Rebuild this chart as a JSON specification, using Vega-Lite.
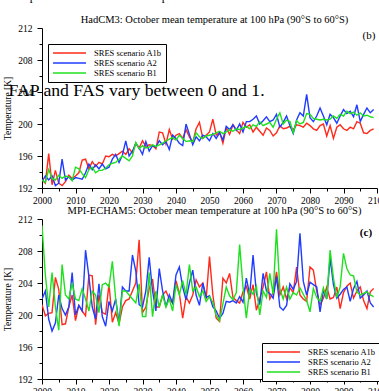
{
  "$schema": "https://vega.github.io/schema/vega-lite/v6.json",
  "padding": {"left": 2, "top": -11, "right": 0, "bottom": 0},
  "background": "white",
  "title": {"text": "temperature field for the 25. Sep 2000", "anchor": "start", "font": "Liberation Serif", "fontSize": 12, "fontWeight": "normal", "color": "black", "dx": 9, "offset": 12},
  "config": {
    "font": "Liberation Serif",
    "view": {"stroke": null},
    "axis": {"labelFont": "Liberation Serif", "labelFontSize": 9.5, "labelColor": "black", "titleFont": "Liberation Serif", "titleFontSize": 9.5, "titleFontWeight": "normal", "titleColor": "black", "domainColor": "black", "tickColor": "black", "grid": false, "labelOverlap": false, "labelFlush": false},
    "legend": {"labelFont": "Liberation Serif", "labelFontSize": 8.5, "labelColor": "black"}
  },
  "spacing": 0,
  "resolve": {"scale": {"color": "independent"}, "legend": {"color": "independent"}},
  "datasets": {
    "hadcm3": [
{"year":2000,"scenario":"A1b","temp":193.0},{"year":2001,"scenario":"A1b","temp":192.6},{"year":2002,"scenario":"A1b","temp":196.3},{"year":2003,"scenario":"A1b","temp":192.4},{"year":2004,"scenario":"A1b","temp":194.2},{"year":2005,"scenario":"A1b","temp":192.6},{"year":2006,"scenario":"A1b","temp":192.3},{"year":2007,"scenario":"A1b","temp":192.8},{"year":2008,"scenario":"A1b","temp":193.6},{"year":2009,"scenario":"A1b","temp":193.2},
{"year":2010,"scenario":"A1b","temp":193.5},{"year":2011,"scenario":"A1b","temp":193.9},{"year":2012,"scenario":"A1b","temp":195.5},{"year":2013,"scenario":"A1b","temp":195.6},{"year":2014,"scenario":"A1b","temp":194.4},{"year":2015,"scenario":"A1b","temp":195.3},{"year":2016,"scenario":"A1b","temp":194.7},{"year":2017,"scenario":"A1b","temp":195.2},{"year":2018,"scenario":"A1b","temp":195.0},{"year":2019,"scenario":"A1b","temp":196.0},
{"year":2020,"scenario":"A1b","temp":195.9},{"year":2021,"scenario":"A1b","temp":196.2},{"year":2022,"scenario":"A1b","temp":196.0},{"year":2023,"scenario":"A1b","temp":196.3},{"year":2024,"scenario":"A1b","temp":196.6},{"year":2025,"scenario":"A1b","temp":196.2},{"year":2026,"scenario":"A1b","temp":196.9},{"year":2027,"scenario":"A1b","temp":196.4},{"year":2028,"scenario":"A1b","temp":197.6},{"year":2029,"scenario":"A1b","temp":197.0},
{"year":2030,"scenario":"A1b","temp":197.9},{"year":2031,"scenario":"A1b","temp":197.2},{"year":2032,"scenario":"A1b","temp":197.4},{"year":2033,"scenario":"A1b","temp":197.3},{"year":2034,"scenario":"A1b","temp":196.9},{"year":2035,"scenario":"A1b","temp":199.0},{"year":2036,"scenario":"A1b","temp":198.9},{"year":2037,"scenario":"A1b","temp":197.5},{"year":2038,"scenario":"A1b","temp":199.3},{"year":2039,"scenario":"A1b","temp":198.1},
{"year":2040,"scenario":"A1b","temp":198.6},{"year":2041,"scenario":"A1b","temp":198.8},{"year":2042,"scenario":"A1b","temp":198.2},{"year":2043,"scenario":"A1b","temp":199.3},{"year":2044,"scenario":"A1b","temp":198.4},{"year":2045,"scenario":"A1b","temp":197.7},{"year":2046,"scenario":"A1b","temp":199.4},{"year":2047,"scenario":"A1b","temp":200.2},{"year":2048,"scenario":"A1b","temp":198.2},{"year":2049,"scenario":"A1b","temp":198.6},
{"year":2050,"scenario":"A1b","temp":199.0},{"year":2051,"scenario":"A1b","temp":200.6},{"year":2052,"scenario":"A1b","temp":198.6},{"year":2053,"scenario":"A1b","temp":199.0},{"year":2054,"scenario":"A1b","temp":197.6},{"year":2055,"scenario":"A1b","temp":199.5},{"year":2056,"scenario":"A1b","temp":198.7},{"year":2057,"scenario":"A1b","temp":199.9},{"year":2058,"scenario":"A1b","temp":199.3},{"year":2059,"scenario":"A1b","temp":198.8},
{"year":2060,"scenario":"A1b","temp":200.2},{"year":2061,"scenario":"A1b","temp":199.6},{"year":2062,"scenario":"A1b","temp":199.9},{"year":2063,"scenario":"A1b","temp":199.0},{"year":2064,"scenario":"A1b","temp":199.6},{"year":2065,"scenario":"A1b","temp":199.1},{"year":2066,"scenario":"A1b","temp":198.6},{"year":2067,"scenario":"A1b","temp":199.5},{"year":2068,"scenario":"A1b","temp":199.2},{"year":2069,"scenario":"A1b","temp":198.5},
{"year":2070,"scenario":"A1b","temp":198.9},{"year":2071,"scenario":"A1b","temp":199.8},{"year":2072,"scenario":"A1b","temp":199.4},{"year":2073,"scenario":"A1b","temp":199.5},{"year":2074,"scenario":"A1b","temp":199.7},{"year":2075,"scenario":"A1b","temp":199.3},{"year":2076,"scenario":"A1b","temp":199.9},{"year":2077,"scenario":"A1b","temp":199.8},{"year":2078,"scenario":"A1b","temp":199.6},{"year":2079,"scenario":"A1b","temp":200.1},
{"year":2080,"scenario":"A1b","temp":199.8},{"year":2081,"scenario":"A1b","temp":199.4},{"year":2082,"scenario":"A1b","temp":199.2},{"year":2083,"scenario":"A1b","temp":199.8},{"year":2084,"scenario":"A1b","temp":200.0},{"year":2085,"scenario":"A1b","temp":198.5},{"year":2086,"scenario":"A1b","temp":199.8},{"year":2087,"scenario":"A1b","temp":198.2},{"year":2088,"scenario":"A1b","temp":199.6},{"year":2089,"scenario":"A1b","temp":199.9},
{"year":2090,"scenario":"A1b","temp":199.4},{"year":2091,"scenario":"A1b","temp":199.2},{"year":2092,"scenario":"A1b","temp":199.6},{"year":2093,"scenario":"A1b","temp":199.4},{"year":2094,"scenario":"A1b","temp":200.3},{"year":2095,"scenario":"A1b","temp":200.1},{"year":2096,"scenario":"A1b","temp":198.9},{"year":2097,"scenario":"A1b","temp":198.8},{"year":2098,"scenario":"A1b","temp":199.2},{"year":2099,"scenario":"A1b","temp":199.4},
{"year":2000,"scenario":"A2","temp":192.8},{"year":2001,"scenario":"A2","temp":193.5},{"year":2002,"scenario":"A2","temp":193.0},{"year":2003,"scenario":"A2","temp":193.5},{"year":2004,"scenario":"A2","temp":192.3},{"year":2005,"scenario":"A2","temp":192.6},{"year":2006,"scenario":"A2","temp":195.6},{"year":2007,"scenario":"A2","temp":193.0},{"year":2008,"scenario":"A2","temp":193.4},{"year":2009,"scenario":"A2","temp":193.0},
{"year":2010,"scenario":"A2","temp":193.3},{"year":2011,"scenario":"A2","temp":193.2},{"year":2012,"scenario":"A2","temp":193.1},{"year":2013,"scenario":"A2","temp":193.9},{"year":2014,"scenario":"A2","temp":195.0},{"year":2015,"scenario":"A2","temp":194.3},{"year":2016,"scenario":"A2","temp":194.9},{"year":2017,"scenario":"A2","temp":194.4},{"year":2018,"scenario":"A2","temp":195.0},{"year":2019,"scenario":"A2","temp":194.4},
{"year":2020,"scenario":"A2","temp":194.6},{"year":2021,"scenario":"A2","temp":195.6},{"year":2022,"scenario":"A2","temp":196.2},{"year":2023,"scenario":"A2","temp":195.2},{"year":2024,"scenario":"A2","temp":196.1},{"year":2025,"scenario":"A2","temp":197.9},{"year":2026,"scenario":"A2","temp":196.0},{"year":2027,"scenario":"A2","temp":196.6},{"year":2028,"scenario":"A2","temp":197.6},{"year":2029,"scenario":"A2","temp":197.0},
{"year":2030,"scenario":"A2","temp":196.2},{"year":2031,"scenario":"A2","temp":197.8},{"year":2032,"scenario":"A2","temp":196.6},{"year":2033,"scenario":"A2","temp":197.3},{"year":2034,"scenario":"A2","temp":197.1},{"year":2035,"scenario":"A2","temp":197.9},{"year":2036,"scenario":"A2","temp":197.4},{"year":2037,"scenario":"A2","temp":197.8},{"year":2038,"scenario":"A2","temp":196.8},{"year":2039,"scenario":"A2","temp":198.6},
{"year":2040,"scenario":"A2","temp":198.2},{"year":2041,"scenario":"A2","temp":197.6},{"year":2042,"scenario":"A2","temp":197.3},{"year":2043,"scenario":"A2","temp":200.0},{"year":2044,"scenario":"A2","temp":198.7},{"year":2045,"scenario":"A2","temp":197.4},{"year":2046,"scenario":"A2","temp":198.4},{"year":2047,"scenario":"A2","temp":197.9},{"year":2048,"scenario":"A2","temp":198.6},{"year":2049,"scenario":"A2","temp":198.4},
{"year":2050,"scenario":"A2","temp":197.9},{"year":2051,"scenario":"A2","temp":198.8},{"year":2052,"scenario":"A2","temp":198.2},{"year":2053,"scenario":"A2","temp":198.9},{"year":2054,"scenario":"A2","temp":198.0},{"year":2055,"scenario":"A2","temp":199.7},{"year":2056,"scenario":"A2","temp":199.3},{"year":2057,"scenario":"A2","temp":199.9},{"year":2058,"scenario":"A2","temp":199.2},{"year":2059,"scenario":"A2","temp":200.0},
{"year":2060,"scenario":"A2","temp":199.0},{"year":2061,"scenario":"A2","temp":200.3},{"year":2062,"scenario":"A2","temp":200.3},{"year":2063,"scenario":"A2","temp":200.6},{"year":2064,"scenario":"A2","temp":201.0},{"year":2065,"scenario":"A2","temp":200.0},{"year":2066,"scenario":"A2","temp":200.4},{"year":2067,"scenario":"A2","temp":200.9},{"year":2068,"scenario":"A2","temp":200.3},{"year":2069,"scenario":"A2","temp":200.5},
{"year":2070,"scenario":"A2","temp":201.2},{"year":2071,"scenario":"A2","temp":199.6},{"year":2072,"scenario":"A2","temp":200.2},{"year":2073,"scenario":"A2","temp":201.0},{"year":2074,"scenario":"A2","temp":199.8},{"year":2075,"scenario":"A2","temp":198.8},{"year":2076,"scenario":"A2","temp":200.5},{"year":2077,"scenario":"A2","temp":201.4},{"year":2078,"scenario":"A2","temp":201.0},{"year":2079,"scenario":"A2","temp":203.7},
{"year":2080,"scenario":"A2","temp":200.8},{"year":2081,"scenario":"A2","temp":200.3},{"year":2082,"scenario":"A2","temp":201.0},{"year":2083,"scenario":"A2","temp":202.0},{"year":2084,"scenario":"A2","temp":201.0},{"year":2085,"scenario":"A2","temp":199.9},{"year":2086,"scenario":"A2","temp":201.2},{"year":2087,"scenario":"A2","temp":200.8},{"year":2088,"scenario":"A2","temp":200.1},{"year":2089,"scenario":"A2","temp":201.0},
{"year":2090,"scenario":"A2","temp":201.8},{"year":2091,"scenario":"A2","temp":201.3},{"year":2092,"scenario":"A2","temp":201.6},{"year":2093,"scenario":"A2","temp":200.9},{"year":2094,"scenario":"A2","temp":202.4},{"year":2095,"scenario":"A2","temp":200.3},{"year":2096,"scenario":"A2","temp":201.2},{"year":2097,"scenario":"A2","temp":202.0},{"year":2098,"scenario":"A2","temp":201.4},{"year":2099,"scenario":"A2","temp":201.8},
{"year":2000,"scenario":"B1","temp":193.0},{"year":2001,"scenario":"B1","temp":192.7},{"year":2002,"scenario":"B1","temp":194.3},{"year":2003,"scenario":"B1","temp":193.2},{"year":2004,"scenario":"B1","temp":193.0},{"year":2005,"scenario":"B1","temp":193.6},{"year":2006,"scenario":"B1","temp":193.2},{"year":2007,"scenario":"B1","temp":193.5},{"year":2008,"scenario":"B1","temp":193.4},{"year":2009,"scenario":"B1","temp":192.9},
{"year":2010,"scenario":"B1","temp":194.6},{"year":2011,"scenario":"B1","temp":194.4},{"year":2012,"scenario":"B1","temp":193.8},{"year":2013,"scenario":"B1","temp":193.3},{"year":2014,"scenario":"B1","temp":194.3},{"year":2015,"scenario":"B1","temp":194.6},{"year":2016,"scenario":"B1","temp":193.9},{"year":2017,"scenario":"B1","temp":194.2},{"year":2018,"scenario":"B1","temp":194.2},{"year":2019,"scenario":"B1","temp":194.5},
{"year":2020,"scenario":"B1","temp":194.9},{"year":2021,"scenario":"B1","temp":195.1},{"year":2022,"scenario":"B1","temp":195.2},{"year":2023,"scenario":"B1","temp":195.6},{"year":2024,"scenario":"B1","temp":196.0},{"year":2025,"scenario":"B1","temp":195.7},{"year":2026,"scenario":"B1","temp":195.4},{"year":2027,"scenario":"B1","temp":196.0},{"year":2028,"scenario":"B1","temp":197.7},{"year":2029,"scenario":"B1","temp":196.9},
{"year":2030,"scenario":"B1","temp":197.3},{"year":2031,"scenario":"B1","temp":197.0},{"year":2032,"scenario":"B1","temp":197.1},{"year":2033,"scenario":"B1","temp":197.4},{"year":2034,"scenario":"B1","temp":197.2},{"year":2035,"scenario":"B1","temp":197.4},{"year":2036,"scenario":"B1","temp":197.6},{"year":2037,"scenario":"B1","temp":197.9},{"year":2038,"scenario":"B1","temp":198.1},{"year":2039,"scenario":"B1","temp":198.3},
{"year":2040,"scenario":"B1","temp":198.0},{"year":2041,"scenario":"B1","temp":198.6},{"year":2042,"scenario":"B1","temp":198.2},{"year":2043,"scenario":"B1","temp":197.8},{"year":2044,"scenario":"B1","temp":197.9},{"year":2045,"scenario":"B1","temp":197.8},{"year":2046,"scenario":"B1","temp":198.9},{"year":2047,"scenario":"B1","temp":198.4},{"year":2048,"scenario":"B1","temp":198.2},{"year":2049,"scenario":"B1","temp":198.5},
{"year":2050,"scenario":"B1","temp":198.6},{"year":2051,"scenario":"B1","temp":198.7},{"year":2052,"scenario":"B1","temp":198.9},{"year":2053,"scenario":"B1","temp":199.1},{"year":2054,"scenario":"B1","temp":198.8},{"year":2055,"scenario":"B1","temp":199.0},{"year":2056,"scenario":"B1","temp":199.3},{"year":2057,"scenario":"B1","temp":199.1},{"year":2058,"scenario":"B1","temp":199.4},{"year":2059,"scenario":"B1","temp":199.3},
{"year":2060,"scenario":"B1","temp":199.5},{"year":2061,"scenario":"B1","temp":199.7},{"year":2062,"scenario":"B1","temp":199.4},{"year":2063,"scenario":"B1","temp":199.9},{"year":2064,"scenario":"B1","temp":199.7},{"year":2065,"scenario":"B1","temp":200.3},{"year":2066,"scenario":"B1","temp":199.8},{"year":2067,"scenario":"B1","temp":200.0},{"year":2068,"scenario":"B1","temp":200.2},{"year":2069,"scenario":"B1","temp":199.6},
{"year":2070,"scenario":"B1","temp":200.6},{"year":2071,"scenario":"B1","temp":201.4},{"year":2072,"scenario":"B1","temp":200.0},{"year":2073,"scenario":"B1","temp":200.5},{"year":2074,"scenario":"B1","temp":200.3},{"year":2075,"scenario":"B1","temp":198.9},{"year":2076,"scenario":"B1","temp":200.4},{"year":2077,"scenario":"B1","temp":200.0},{"year":2078,"scenario":"B1","temp":200.2},{"year":2079,"scenario":"B1","temp":201.3},
{"year":2080,"scenario":"B1","temp":201.2},{"year":2081,"scenario":"B1","temp":200.7},{"year":2082,"scenario":"B1","temp":200.6},{"year":2083,"scenario":"B1","temp":200.5},{"year":2084,"scenario":"B1","temp":200.6},{"year":2085,"scenario":"B1","temp":200.5},{"year":2086,"scenario":"B1","temp":200.6},{"year":2087,"scenario":"B1","temp":201.0},{"year":2088,"scenario":"B1","temp":200.7},{"year":2089,"scenario":"B1","temp":201.2},
{"year":2090,"scenario":"B1","temp":201.0},{"year":2091,"scenario":"B1","temp":201.6},{"year":2092,"scenario":"B1","temp":201.3},{"year":2093,"scenario":"B1","temp":201.5},{"year":2094,"scenario":"B1","temp":201.1},{"year":2095,"scenario":"B1","temp":201.4},{"year":2096,"scenario":"B1","temp":201.0},{"year":2097,"scenario":"B1","temp":201.1},{"year":2098,"scenario":"B1","temp":200.9},{"year":2099,"scenario":"B1","temp":200.8}
    ],
    "echam5": [
{"year":2000,"scenario":"A1b","temp":201.3},{"year":2001,"scenario":"A1b","temp":199.9},{"year":2002,"scenario":"A1b","temp":200.2},{"year":2003,"scenario":"A1b","temp":200.3},{"year":2004,"scenario":"A1b","temp":204.7},{"year":2005,"scenario":"A1b","temp":203.2},{"year":2006,"scenario":"A1b","temp":198.8},{"year":2007,"scenario":"A1b","temp":198.9},{"year":2008,"scenario":"A1b","temp":201.0},{"year":2009,"scenario":"A1b","temp":202.5},
{"year":2010,"scenario":"A1b","temp":199.3},{"year":2011,"scenario":"A1b","temp":201.2},{"year":2012,"scenario":"A1b","temp":200.5},{"year":2013,"scenario":"A1b","temp":199.9},{"year":2014,"scenario":"A1b","temp":205.0},{"year":2015,"scenario":"A1b","temp":204.9},{"year":2016,"scenario":"A1b","temp":198.8},{"year":2017,"scenario":"A1b","temp":202.5},{"year":2018,"scenario":"A1b","temp":200.3},{"year":2019,"scenario":"A1b","temp":200.1},
{"year":2020,"scenario":"A1b","temp":203.9},{"year":2021,"scenario":"A1b","temp":199.1},{"year":2022,"scenario":"A1b","temp":200.3},{"year":2023,"scenario":"A1b","temp":198.9},{"year":2024,"scenario":"A1b","temp":201.0},{"year":2025,"scenario":"A1b","temp":201.8},{"year":2026,"scenario":"A1b","temp":202.0},{"year":2027,"scenario":"A1b","temp":203.0},{"year":2028,"scenario":"A1b","temp":204.0},{"year":2029,"scenario":"A1b","temp":209.4},
{"year":2030,"scenario":"A1b","temp":200.3},{"year":2031,"scenario":"A1b","temp":201.0},{"year":2032,"scenario":"A1b","temp":203.3},{"year":2033,"scenario":"A1b","temp":204.5},{"year":2034,"scenario":"A1b","temp":201.0},{"year":2035,"scenario":"A1b","temp":201.0},{"year":2036,"scenario":"A1b","temp":202.5},{"year":2037,"scenario":"A1b","temp":203.0},{"year":2038,"scenario":"A1b","temp":202.0},{"year":2039,"scenario":"A1b","temp":201.5},
{"year":2040,"scenario":"A1b","temp":204.3},{"year":2041,"scenario":"A1b","temp":202.7},{"year":2042,"scenario":"A1b","temp":199.6},{"year":2043,"scenario":"A1b","temp":202.3},{"year":2044,"scenario":"A1b","temp":201.5},{"year":2045,"scenario":"A1b","temp":202.5},{"year":2046,"scenario":"A1b","temp":204.4},{"year":2047,"scenario":"A1b","temp":203.5},{"year":2048,"scenario":"A1b","temp":204.0},{"year":2049,"scenario":"A1b","temp":202.0},
{"year":2050,"scenario":"A1b","temp":207.3},{"year":2051,"scenario":"A1b","temp":202.5},{"year":2052,"scenario":"A1b","temp":199.6},{"year":2053,"scenario":"A1b","temp":199.2},{"year":2054,"scenario":"A1b","temp":204.6},{"year":2055,"scenario":"A1b","temp":204.0},{"year":2056,"scenario":"A1b","temp":205.2},{"year":2057,"scenario":"A1b","temp":202.2},{"year":2058,"scenario":"A1b","temp":201.8},{"year":2059,"scenario":"A1b","temp":201.5},
{"year":2060,"scenario":"A1b","temp":202.9},{"year":2061,"scenario":"A1b","temp":203.6},{"year":2062,"scenario":"A1b","temp":202.0},{"year":2063,"scenario":"A1b","temp":203.8},{"year":2064,"scenario":"A1b","temp":200.6},{"year":2065,"scenario":"A1b","temp":202.0},{"year":2066,"scenario":"A1b","temp":203.5},{"year":2067,"scenario":"A1b","temp":205.4},{"year":2068,"scenario":"A1b","temp":202.0},{"year":2069,"scenario":"A1b","temp":202.8},
{"year":2070,"scenario":"A1b","temp":205.4},{"year":2071,"scenario":"A1b","temp":202.5},{"year":2072,"scenario":"A1b","temp":203.5},{"year":2073,"scenario":"A1b","temp":202.0},{"year":2074,"scenario":"A1b","temp":203.4},{"year":2075,"scenario":"A1b","temp":202.8},{"year":2076,"scenario":"A1b","temp":206.0},{"year":2077,"scenario":"A1b","temp":202.5},{"year":2078,"scenario":"A1b","temp":202.0},{"year":2079,"scenario":"A1b","temp":201.7},
{"year":2080,"scenario":"A1b","temp":206.0},{"year":2081,"scenario":"A1b","temp":205.6},{"year":2082,"scenario":"A1b","temp":203.0},{"year":2083,"scenario":"A1b","temp":201.3},{"year":2084,"scenario":"A1b","temp":202.1},{"year":2085,"scenario":"A1b","temp":203.5},{"year":2086,"scenario":"A1b","temp":202.0},{"year":2087,"scenario":"A1b","temp":202.2},{"year":2088,"scenario":"A1b","temp":203.5},{"year":2089,"scenario":"A1b","temp":200.8},
{"year":2090,"scenario":"A1b","temp":202.8},{"year":2091,"scenario":"A1b","temp":203.6},{"year":2092,"scenario":"A1b","temp":204.0},{"year":2093,"scenario":"A1b","temp":202.1},{"year":2094,"scenario":"A1b","temp":203.0},{"year":2095,"scenario":"A1b","temp":203.5},{"year":2096,"scenario":"A1b","temp":201.8},{"year":2097,"scenario":"A1b","temp":200.8},{"year":2098,"scenario":"A1b","temp":202.9},{"year":2099,"scenario":"A1b","temp":203.3},
{"year":2000,"scenario":"A2","temp":202.0},{"year":2001,"scenario":"A2","temp":203.0},{"year":2002,"scenario":"A2","temp":199.5},{"year":2003,"scenario":"A2","temp":198.0},{"year":2004,"scenario":"A2","temp":199.0},{"year":2005,"scenario":"A2","temp":202.5},{"year":2006,"scenario":"A2","temp":200.8},{"year":2007,"scenario":"A2","temp":200.0},{"year":2008,"scenario":"A2","temp":201.0},{"year":2009,"scenario":"A2","temp":205.3},
{"year":2010,"scenario":"A2","temp":200.0},{"year":2011,"scenario":"A2","temp":201.2},{"year":2012,"scenario":"A2","temp":200.5},{"year":2013,"scenario":"A2","temp":208.1},{"year":2014,"scenario":"A2","temp":204.8},{"year":2015,"scenario":"A2","temp":201.0},{"year":2016,"scenario":"A2","temp":199.5},{"year":2017,"scenario":"A2","temp":203.9},{"year":2018,"scenario":"A2","temp":199.8},{"year":2019,"scenario":"A2","temp":198.6},
{"year":2020,"scenario":"A2","temp":201.7},{"year":2021,"scenario":"A2","temp":200.5},{"year":2022,"scenario":"A2","temp":202.0},{"year":2023,"scenario":"A2","temp":199.0},{"year":2024,"scenario":"A2","temp":203.5},{"year":2025,"scenario":"A2","temp":203.0},{"year":2026,"scenario":"A2","temp":203.0},{"year":2027,"scenario":"A2","temp":207.5},{"year":2028,"scenario":"A2","temp":205.5},{"year":2029,"scenario":"A2","temp":201.3},
{"year":2030,"scenario":"A2","temp":201.0},{"year":2031,"scenario":"A2","temp":203.0},{"year":2032,"scenario":"A2","temp":207.2},{"year":2033,"scenario":"A2","temp":203.0},{"year":2034,"scenario":"A2","temp":200.5},{"year":2035,"scenario":"A2","temp":205.8},{"year":2036,"scenario":"A2","temp":203.0},{"year":2037,"scenario":"A2","temp":201.0},{"year":2038,"scenario":"A2","temp":202.5},{"year":2039,"scenario":"A2","temp":201.5},
{"year":2040,"scenario":"A2","temp":205.0},{"year":2041,"scenario":"A2","temp":206.0},{"year":2042,"scenario":"A2","temp":203.5},{"year":2043,"scenario":"A2","temp":201.9},{"year":2044,"scenario":"A2","temp":204.0},{"year":2045,"scenario":"A2","temp":205.6},{"year":2046,"scenario":"A2","temp":202.5},{"year":2047,"scenario":"A2","temp":201.2},{"year":2048,"scenario":"A2","temp":204.0},{"year":2049,"scenario":"A2","temp":202.2},
{"year":2050,"scenario":"A2","temp":202.4},{"year":2051,"scenario":"A2","temp":201.0},{"year":2052,"scenario":"A2","temp":200.5},{"year":2053,"scenario":"A2","temp":199.6},{"year":2054,"scenario":"A2","temp":200.2},{"year":2055,"scenario":"A2","temp":201.7},{"year":2056,"scenario":"A2","temp":201.6},{"year":2057,"scenario":"A2","temp":201.8},{"year":2058,"scenario":"A2","temp":201.5},{"year":2059,"scenario":"A2","temp":202.3},
{"year":2060,"scenario":"A2","temp":201.6},{"year":2061,"scenario":"A2","temp":204.6},{"year":2062,"scenario":"A2","temp":202.5},{"year":2063,"scenario":"A2","temp":207.5},{"year":2064,"scenario":"A2","temp":202.7},{"year":2065,"scenario":"A2","temp":201.3},{"year":2066,"scenario":"A2","temp":205.2},{"year":2067,"scenario":"A2","temp":203.0},{"year":2068,"scenario":"A2","temp":202.7},{"year":2069,"scenario":"A2","temp":202.1},
{"year":2070,"scenario":"A2","temp":204.8},{"year":2071,"scenario":"A2","temp":201.0},{"year":2072,"scenario":"A2","temp":200.6},{"year":2073,"scenario":"A2","temp":201.2},{"year":2074,"scenario":"A2","temp":203.9},{"year":2075,"scenario":"A2","temp":203.2},{"year":2076,"scenario":"A2","temp":204.2},{"year":2077,"scenario":"A2","temp":210.2},{"year":2078,"scenario":"A2","temp":204.2},{"year":2079,"scenario":"A2","temp":202.5},
{"year":2080,"scenario":"A2","temp":204.1},{"year":2081,"scenario":"A2","temp":203.8},{"year":2082,"scenario":"A2","temp":203.5},{"year":2083,"scenario":"A2","temp":200.4},{"year":2084,"scenario":"A2","temp":203.1},{"year":2085,"scenario":"A2","temp":202.0},{"year":2086,"scenario":"A2","temp":207.1},{"year":2087,"scenario":"A2","temp":203.8},{"year":2088,"scenario":"A2","temp":202.1},{"year":2089,"scenario":"A2","temp":202.6},
{"year":2090,"scenario":"A2","temp":203.2},{"year":2091,"scenario":"A2","temp":203.5},{"year":2092,"scenario":"A2","temp":201.7},{"year":2093,"scenario":"A2","temp":203.3},{"year":2094,"scenario":"A2","temp":204.2},{"year":2095,"scenario":"A2","temp":202.1},{"year":2096,"scenario":"A2","temp":202.5},{"year":2097,"scenario":"A2","temp":203.0},{"year":2098,"scenario":"A2","temp":201.5},{"year":2099,"scenario":"A2","temp":201.0},
{"year":2000,"scenario":"B1","temp":211.2},{"year":2001,"scenario":"B1","temp":205.0},{"year":2002,"scenario":"B1","temp":201.0},{"year":2003,"scenario":"B1","temp":205.3},{"year":2004,"scenario":"B1","temp":201.0},{"year":2005,"scenario":"B1","temp":198.1},{"year":2006,"scenario":"B1","temp":206.3},{"year":2007,"scenario":"B1","temp":202.5},{"year":2008,"scenario":"B1","temp":202.0},{"year":2009,"scenario":"B1","temp":204.0},
{"year":2010,"scenario":"B1","temp":202.0},{"year":2011,"scenario":"B1","temp":201.8},{"year":2012,"scenario":"B1","temp":203.3},{"year":2013,"scenario":"B1","temp":202.0},{"year":2014,"scenario":"B1","temp":200.5},{"year":2015,"scenario":"B1","temp":203.0},{"year":2016,"scenario":"B1","temp":202.5},{"year":2017,"scenario":"B1","temp":200.3},{"year":2018,"scenario":"B1","temp":203.8},{"year":2019,"scenario":"B1","temp":204.0},
{"year":2020,"scenario":"B1","temp":203.5},{"year":2021,"scenario":"B1","temp":206.7},{"year":2022,"scenario":"B1","temp":202.0},{"year":2023,"scenario":"B1","temp":198.6},{"year":2024,"scenario":"B1","temp":203.0},{"year":2025,"scenario":"B1","temp":203.0},{"year":2026,"scenario":"B1","temp":202.5},{"year":2027,"scenario":"B1","temp":202.0},{"year":2028,"scenario":"B1","temp":201.5},{"year":2029,"scenario":"B1","temp":203.9},
{"year":2030,"scenario":"B1","temp":199.8},{"year":2031,"scenario":"B1","temp":199.8},{"year":2032,"scenario":"B1","temp":205.3},{"year":2033,"scenario":"B1","temp":199.8},{"year":2034,"scenario":"B1","temp":203.0},{"year":2035,"scenario":"B1","temp":201.0},{"year":2036,"scenario":"B1","temp":202.5},{"year":2037,"scenario":"B1","temp":201.0},{"year":2038,"scenario":"B1","temp":202.0},{"year":2039,"scenario":"B1","temp":200.5},
{"year":2040,"scenario":"B1","temp":203.8},{"year":2041,"scenario":"B1","temp":202.5},{"year":2042,"scenario":"B1","temp":204.3},{"year":2043,"scenario":"B1","temp":202.5},{"year":2044,"scenario":"B1","temp":206.3},{"year":2045,"scenario":"B1","temp":203.0},{"year":2046,"scenario":"B1","temp":203.5},{"year":2047,"scenario":"B1","temp":202.3},{"year":2048,"scenario":"B1","temp":203.0},{"year":2049,"scenario":"B1","temp":201.7},
{"year":2050,"scenario":"B1","temp":202.3},{"year":2051,"scenario":"B1","temp":201.6},{"year":2052,"scenario":"B1","temp":200.0},{"year":2053,"scenario":"B1","temp":199.3},{"year":2054,"scenario":"B1","temp":201.4},{"year":2055,"scenario":"B1","temp":203.5},{"year":2056,"scenario":"B1","temp":202.4},{"year":2057,"scenario":"B1","temp":201.9},{"year":2058,"scenario":"B1","temp":202.8},{"year":2059,"scenario":"B1","temp":208.8},
{"year":2060,"scenario":"B1","temp":203.5},{"year":2061,"scenario":"B1","temp":199.6},{"year":2062,"scenario":"B1","temp":203.2},{"year":2063,"scenario":"B1","temp":202.6},{"year":2064,"scenario":"B1","temp":203.6},{"year":2065,"scenario":"B1","temp":200.0},{"year":2066,"scenario":"B1","temp":203.0},{"year":2067,"scenario":"B1","temp":202.2},{"year":2068,"scenario":"B1","temp":205.2},{"year":2069,"scenario":"B1","temp":202.6},
{"year":2070,"scenario":"B1","temp":210.7},{"year":2071,"scenario":"B1","temp":203.3},{"year":2072,"scenario":"B1","temp":202.0},{"year":2073,"scenario":"B1","temp":203.5},{"year":2074,"scenario":"B1","temp":202.0},{"year":2075,"scenario":"B1","temp":202.8},{"year":2076,"scenario":"B1","temp":202.5},{"year":2077,"scenario":"B1","temp":203.4},{"year":2078,"scenario":"B1","temp":202.6},{"year":2079,"scenario":"B1","temp":201.8},
{"year":2080,"scenario":"B1","temp":200.4},{"year":2081,"scenario":"B1","temp":203.3},{"year":2082,"scenario":"B1","temp":202.2},{"year":2083,"scenario":"B1","temp":201.7},{"year":2084,"scenario":"B1","temp":203.4},{"year":2085,"scenario":"B1","temp":202.0},{"year":2086,"scenario":"B1","temp":208.1},{"year":2087,"scenario":"B1","temp":204.6},{"year":2088,"scenario":"B1","temp":202.2},{"year":2089,"scenario":"B1","temp":203.5},
{"year":2090,"scenario":"B1","temp":207.7},{"year":2091,"scenario":"B1","temp":205.8},{"year":2092,"scenario":"B1","temp":205.0},{"year":2093,"scenario":"B1","temp":204.9},{"year":2094,"scenario":"B1","temp":202.9},{"year":2095,"scenario":"B1","temp":202.5},{"year":2096,"scenario":"B1","temp":202.7},{"year":2097,"scenario":"B1","temp":202.9},{"year":2098,"scenario":"B1","temp":202.5},{"year":2099,"scenario":"B1","temp":202.3}
    ]
  },
  "vconcat": [
    {
      "width": 335,
      "height": 160,
      "title": {"text": "HadCM3: October mean temperature at 100 hPa (90°S to 60°S)", "font": "Liberation Serif", "fontSize": 10.5, "fontWeight": "normal", "color": "black", "offset": -2, "dx": 5},
      "layer": [
        {
          "data": {"name": "hadcm3"},
          "mark": {"type": "line", "strokeWidth": 1.4, "clip": true},
          "encoding": {
            "x": {"field": "year", "type": "quantitative", "scale": {"domain": [2000, 2100], "nice": false, "zero": false},
              "axis": {"title": null, "format": "d", "labelOverlap": false, "tickCount": 40, "values": [2000,2005,2010,2015,2020,2025,2030,2035,2040,2045,2050,2055,2060,2065,2070,2075,2080,2085,2090,2095,2100], "labelExpr": "datum.value % 10 == 0 ? datum.label : ''", "tickSize": {"condition": {"test": "datum.value % 10 == 0", "value": 5}, "value": 3}, "labelPadding": 2}},
            "y": {"field": "temp", "type": "quantitative", "scale": {"domain": [192, 212], "nice": false, "zero": false},
              "axis": {"title": "Temperature [K]", "format": "d", "labelOverlap": false, "tickCount": 40, "values": [192,194,196,198,200,202,204,206,208,210,212], "labelExpr": "datum.value % 4 == 0 ? datum.label : ''", "tickSize": {"condition": {"test": "datum.value % 4 == 0", "value": 5}, "value": 3}, "labelPadding": 5, "titlePadding": 5}},
            "color": {"field": "scenario", "type": "nominal", "scale": {"domain": ["A1b", "A2", "B1"], "range": ["#ff2a1a", "#1f3cff", "#1fe01f"]},
              "legend": {"title": null, "orient": "none", "legendX": 6, "legendY": 16, "labelExpr": "'SRES scenario ' + datum.label", "labelFont": "Liberation Serif", "labelFontSize": 8.5, "symbolType": "M-1,0H7.25", "symbolSize": 64, "symbolStrokeWidth": 1.5, "strokeColor": "black", "fillColor": "white", "padding": 4, "rowPadding": 0, "labelOffset": 32}}
          }
        },
        {
          "data": {"values": [{}]},
          "mark": {"type": "text", "text": "FAP and FAS vary between 0 and 1.", "font": "Liberation Serif", "fontSize": 17.7, "align": "left", "baseline": "alphabetic", "color": "black"},
          "encoding": {"x": {"datum": 1990, "type": "quantitative"}, "y": {"datum": 203.5, "type": "quantitative"}}
        },
        {
          "data": {"values": [{}]},
          "mark": {"type": "text", "text": "(b)", "font": "Liberation Serif", "fontSize": 11, "align": "center", "baseline": "middle", "color": "black"},
          "encoding": {"x": {"datum": 2097.6, "type": "quantitative"}, "y": {"datum": 211, "type": "quantitative"}}
        }
      ]
    },
    {
      "width": 335,
      "height": 160,
      "title": {"text": "MPI-ECHAM5: October mean temperature at 100 hPa (90°S to 60°S)", "font": "Liberation Serif", "fontSize": 10.5, "fontWeight": "normal", "color": "black", "offset": -2, "dx": 5},
      "layer": [
        {
          "data": {"name": "echam5"},
          "mark": {"type": "line", "strokeWidth": 1.4, "clip": true},
          "encoding": {
            "x": {"field": "year", "type": "quantitative", "scale": {"domain": [2000, 2100], "nice": false, "zero": false},
              "axis": {"title": null, "format": "d", "labelOverlap": false, "tickCount": 40, "values": [2000,2005,2010,2015,2020,2025,2030,2035,2040,2045,2050,2055,2060,2065,2070,2075,2080,2085,2090,2095,2100], "labelExpr": "datum.value % 10 == 0 ? datum.label : ''", "tickSize": {"condition": {"test": "datum.value % 10 == 0", "value": 5}, "value": 3}, "labelPadding": 2}},
            "y": {"field": "temp", "type": "quantitative", "scale": {"domain": [192, 212], "nice": false, "zero": false},
              "axis": {"title": "Temperature [K]", "format": "d", "labelOverlap": false, "tickCount": 40, "values": [192,194,196,198,200,202,204,206,208,210,212], "labelExpr": "datum.value % 4 == 0 ? datum.label : ''", "tickSize": {"condition": {"test": "datum.value % 4 == 0", "value": 5}, "value": 3}, "labelPadding": 5, "titlePadding": 5}},
            "color": {"field": "scenario", "type": "nominal", "scale": {"domain": ["A1b", "A2", "B1"], "range": ["#ff2a1a", "#1f3cff", "#1fe01f"]},
              "legend": {"title": null, "orient": "none", "legendX": 220, "legendY": 124, "labelExpr": "'SRES scenario ' + datum.label", "labelFont": "Liberation Serif", "labelFontSize": 8.5, "symbolType": "M-1,0H7.25", "symbolSize": 64, "symbolStrokeWidth": 1.5, "strokeColor": "black", "fillColor": "white", "padding": 4, "rowPadding": 0, "labelOffset": 32}}
          }
        },
        {
          "data": {"values": [{}]},
          "mark": {"type": "text", "text": "(c)", "font": "Liberation Serif", "fontSize": 11, "fontWeight": "bold", "align": "center", "baseline": "middle", "color": "black"},
          "encoding": {"x": {"datum": 2096.7, "type": "quantitative"}, "y": {"datum": 210.25, "type": "quantitative"}}
        }
      ]
    }
  ]
}
